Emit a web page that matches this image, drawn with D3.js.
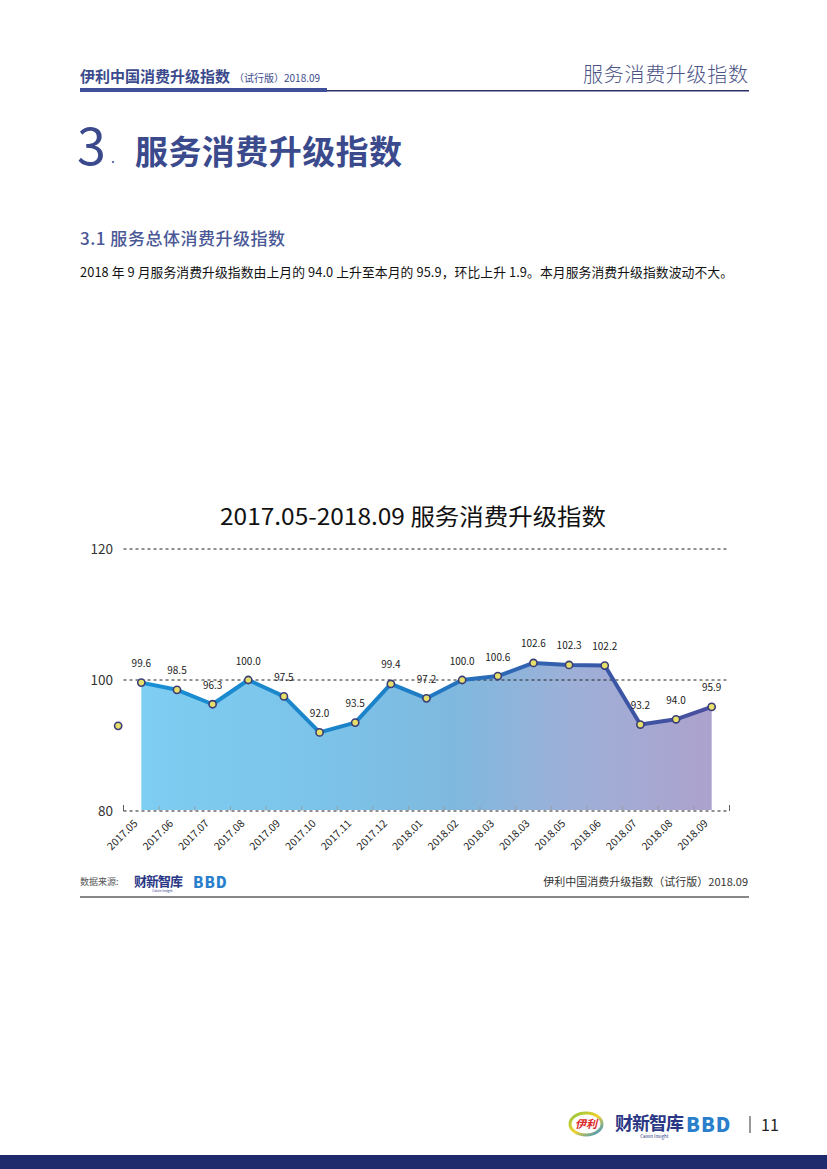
<!DOCTYPE html>
<html><head><meta charset="utf-8">
<script src="https://cdn.jsdelivr.net/npm/d3@7"></script>
<style>
html,body{margin:0;padding:0;background:#fff;}
svg{display:block;}
text{font-family:"Noto Sans CJK SC","Noto Sans",sans-serif;}
</style></head>
<body>
<script>
// ---- data ----
const categories = ["2017.05","2017.06","2017.07","2017.08","2017.09","2017.10","2017.11","2017.12","2018.01","2018.02","2018.03","2018.03","2018.05","2018.06","2018.07","2018.08","2018.09"];
const values = [99.6,98.5,96.3,100.0,97.5,92.0,93.5,99.4,97.2,100.0,100.6,102.6,102.3,102.2,93.2,94.0,95.9];
const yTicks = [80,100,120];
const strayValue = 93.0; // stray marker left of the series in the original
const chartTitle = "2017.05-2018.09 服务消费升级指数";

const W = 827, H = 1169;
const svg = d3.select("body").append("svg").attr("width", W).attr("height", H);
const defs = svg.append("defs");

const navy = "#3b4a8c";
const narrow = "'Liberation Sans Narrow','DejaVu Sans Condensed',Roboto,sans-serif";

// ---- page header ----
svg.append("text").attr("x",80).attr("y",82).attr("font-size",15).attr("font-weight",700).attr("fill",navy)
  .text("伊利中国消费升级指数");
svg.append("text").attr("x",234).attr("y",82).attr("font-size",10).attr("fill",navy).text("（试行版）2018.09");
svg.append("text").attr("x",748).attr("y",82).attr("text-anchor","end").attr("font-size",20).attr("font-weight",300).attr("fill","#4b5385")
  .attr("textLength",165).attr("lengthAdjust","spacing").text("服务消费升级指数");
svg.append("rect").attr("x",80).attr("y",88).attr("width",247).attr("height",4).attr("fill","#3f4f99");
svg.append("rect").attr("x",327).attr("y",90).attr("width",422).attr("height",1.5).attr("fill","#2a2f6a");

// ---- section titles ----
svg.append("text").attr("x",77).attr("y",165).attr("font-size",52).attr("font-weight",400).attr("fill",navy)
  .attr("font-family","'Noto Sans', sans-serif").text("3");
svg.append("text").attr("x",111).attr("y",163).attr("font-size",14).attr("fill",navy).text(".");
svg.append("text").attr("x",135).attr("y",164).attr("font-size",33).attr("font-weight",700).attr("fill",navy)
  .attr("textLength",267).attr("lengthAdjust","spacing").text("服务消费升级指数");
svg.append("text").attr("x",80).attr("y",245).attr("font-size",17).attr("font-weight",500).attr("fill","#4a5896")
  .attr("textLength",205).attr("lengthAdjust","spacing").text("3.1 服务总体消费升级指数");
svg.append("text").attr("x",80).attr("y",277).attr("font-size",12.8).attr("font-weight",400).attr("fill","#111")
  .attr("textLength",653).attr("lengthAdjust","spacing")
  .text("2018 年 9 月服务消费升级指数由上月的 94.0 上升至本月的 95.9，环比上升 1.9。本月服务消费升级指数波动不大。");

// ---- chart ----
const x = d3.scaleBand().domain(d3.range(categories.length)).range([123.5, 729.5]);
const bw = x.bandwidth();
const cx = i => x(i) + bw/2;
const y = d3.scaleLinear().domain([80,120]).range([811,549]);
const xLin = d3.scaleLinear().domain([0, categories.length-1]).range([cx(0), cx(categories.length-1)]);

svg.append("text").attr("x",413).attr("y",525).attr("text-anchor","middle").attr("font-size",23)
  .attr("font-weight",400).attr("fill","#111").attr("textLength",386).attr("lengthAdjust","spacingAndGlyphs").text(chartTitle);

// gradients
const ag = defs.append("linearGradient").attr("id","areaG").attr("gradientUnits","userSpaceOnUse")
  .attr("x1",cx(0)).attr("x2",cx(categories.length-1)).attr("y1",0).attr("y2",0);
[[0,"#7ecdf2"],[0.35,"#7cc2e8"],[0.55,"#7fb8de"],[0.75,"#9db0d8"],[1,"#aca2cd"]].forEach(s=>ag.append("stop").attr("offset",s[0]).attr("stop-color",s[1]));
const lg = defs.append("linearGradient").attr("id","lineG").attr("gradientUnits","userSpaceOnUse")
  .attr("x1",cx(0)).attr("x2",cx(categories.length-1)).attr("y1",0).attr("y2",0);
[[0,"#1a8fd3"],[0.45,"#1c80c8"],[0.65,"#2f66b3"],[0.85,"#3b54a3"],[1,"#4a4f9f"]].forEach(s=>lg.append("stop").attr("offset",s[0]).attr("stop-color",s[1]));

const area = d3.area().x((d,i)=>cx(i)).y0(y(80)-1).y1(d=>y(d));
svg.append("path").datum(values).attr("d",area).attr("fill","url(#areaG)");

// gridlines
yTicks.forEach(t=>{
  svg.append("line").attr("x1",123.5).attr("x2",729.5).attr("y1",y(t)).attr("y2",y(t))
    .attr("stroke","#222").attr("stroke-width",1).attr("stroke-dasharray","3,3");
  svg.append("text").attr("x",113).attr("y",y(t)).attr("dy","0.35em").attr("text-anchor","end")
    .attr("font-size",13.5).attr("fill","#333").attr("font-family",narrow)
    .text(t);
});
// axis ticks
const edges = d3.range(categories.length+1).map(i => i<categories.length ? x(i) : x(categories.length-1)+bw);
edges.forEach((e,k)=>{
  const end = (k===0||k===edges.length-1);
  svg.append("line").attr("x1",e).attr("x2",e).attr("y1",y(80)).attr("y2",y(80)-(end?6:5))
    .attr("stroke", end?"#333":"#999").attr("stroke-width",0.8);
});
// x labels
categories.forEach((c,i)=>{
  svg.append("text").attr("transform",`translate(${cx(i)-3},${y(80)+13}) rotate(-45)`)
    .attr("text-anchor","end").attr("font-size",10.5).attr("fill","#222")
    .attr("font-family",narrow).text(c);
});

// line
const line = d3.line().x((d,i)=>cx(i)).y(d=>y(d));
svg.append("path").datum(values).attr("d",line).attr("fill","none").attr("stroke","url(#lineG)")
  .attr("stroke-width",4).attr("stroke-linejoin","round");

// markers
const pts = values.map((v,i)=>({x:cx(i), y:y(v), v}));
pts.push({x:xLin(-0.65), y:y(strayValue), v:null});
svg.selectAll("circle.m").data(pts).enter().append("circle")
  .attr("cx",d=>d.x).attr("cy",d=>d.y).attr("r",3.6)
  .attr("fill","#e6df6a").attr("stroke","#3a3d78").attr("stroke-width",1.6);

// value labels
values.forEach((v,i)=>{
  svg.append("text").attr("x",cx(i)).attr("y",y(v)-19).attr("dy","0.35em").attr("text-anchor","middle")
    .attr("font-size",10).attr("fill","#222").attr("font-family",narrow)
    .text(v.toFixed(1));
});

// ---- footer of chart ----
svg.append("text").attr("x",80).attr("y",885).attr("font-size",9).attr("fill","#555").text("数据来源:");
function caixin(xx, yy, fs){
  svg.append("text").attr("x",xx).attr("y",yy).attr("font-size",fs).attr("font-weight",700).attr("fill","#2a3785")
    .attr("letter-spacing",-1).text("财新智库");
  svg.append("text").attr("x",xx+fs*1.4).attr("y",yy+fs*0.45).attr("font-size",fs*0.25).attr("fill","#2a3785").text("Caixin Insight");
}
function bbd(xx, yy, fs){
  svg.append("text").attr("x",xx).attr("y",yy).attr("font-size",fs).attr("font-weight",900).attr("fill","#2a7fcc")
    .attr("font-family","'DejaVu Sans',sans-serif").attr("letter-spacing",1).text("BBD");
}
caixin(134, 886, 13);
bbd(193, 888, 15);
svg.append("text").attr("x",748).attr("y",886).attr("text-anchor","end").attr("font-size",11).attr("fill","#333")
  .text("伊利中国消费升级指数（试行版）2018.09");
svg.append("line").attr("x1",80).attr("x2",749).attr("y1",897).attr("y2",897).attr("stroke","#111").attr("stroke-width",1.2);

// ---- page footer ----
const yl = defs.append("linearGradient").attr("id","yiliG").attr("x1",0).attr("x2",1).attr("y1",0).attr("y2",1);
[[0,"#8cc63e"],[0.5,"#f2d22e"],[1,"#2a8fd0"]].forEach(s=>yl.append("stop").attr("offset",s[0]).attr("stop-color",s[1]));
svg.append("ellipse").attr("cx",586).attr("cy",1124).attr("rx",16).attr("ry",11).attr("fill","#fff").attr("stroke","url(#yiliG)").attr("stroke-width",3);
svg.append("text").attr("x",586).attr("y",1128).attr("text-anchor","middle").attr("font-size",11).attr("font-weight",700)
  .attr("font-style","italic").attr("fill","#d92a2a").text("伊利");
caixin(615, 1130, 18);
bbd(686, 1132, 20);
svg.append("line").attr("x1",750).attr("x2",750).attr("y1",1116).attr("y2",1133).attr("stroke","#333").attr("stroke-width",1);
svg.append("text").attr("x",761).attr("y",1131).attr("font-size",16).attr("fill","#222").text("11");
svg.append("rect").attr("x",0).attr("y",1155).attr("width",W).attr("height",14).attr("fill","#1f2a6c");
</script>
</body></html>
